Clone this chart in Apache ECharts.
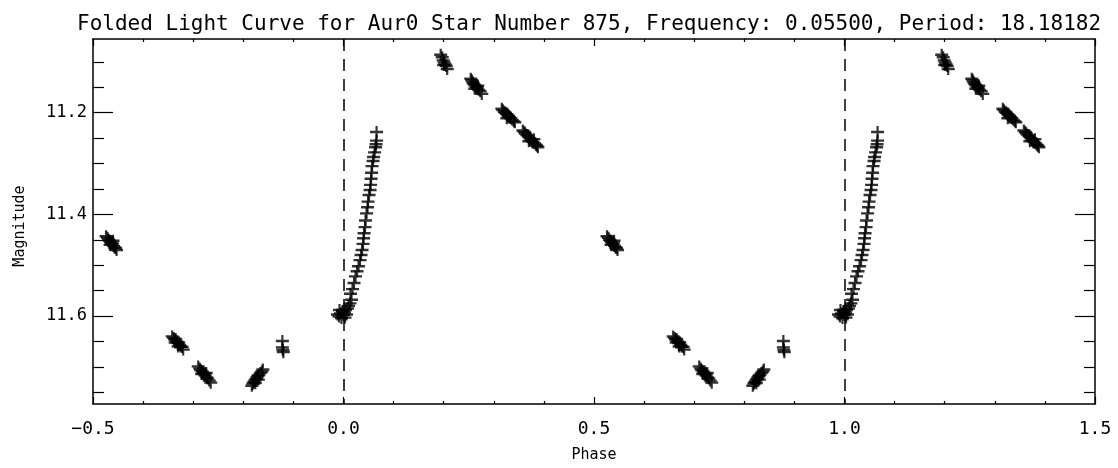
<!DOCTYPE html>
<html>
<head>
<meta charset="utf-8">
<script src="https://cdn.jsdelivr.net/npm/echarts@6/dist/echarts.min.js"></script>
<style>
  html, body { margin: 0; padding: 0; background: #fff; }
  #chart { width: 1118px; height: 468px; }
</style>
</head>
<body>
<div id="chart"></div>
<script>
const phase = [
  // cluster near -0.46
  -0.474, -0.471, -0.469, -0.467, -0.465, -0.463, -0.461, -0.459, -0.457, -0.455, -0.453, -0.460, -0.466,
  // cluster near -0.33
  -0.342, -0.339, -0.337, -0.335, -0.333, -0.331, -0.329, -0.327, -0.325, -0.322, -0.320, -0.336, -0.330,
  // cluster near -0.28
  -0.290, -0.287, -0.285, -0.282, -0.280, -0.278, -0.276, -0.273, -0.271, -0.268, -0.265, -0.283, -0.274,
  // cluster near -0.17
  -0.183, -0.181, -0.179, -0.177, -0.175, -0.173, -0.171, -0.169, -0.166, -0.163, -0.161, -0.176, -0.170,
  // few points near -0.12
  -0.122, -0.122, -0.121, -0.120,
  // minimum near 0.0
  -0.012, -0.009, -0.006, -0.004, -0.002, 0.000, 0.002, 0.004, 0.006, 0.008, 0.010, 0.013, 0.016, -0.008, 0.003,
  // rising branch
  0.066, 0.066, 0.065, 0.064, 0.062, 0.060, 0.059, 0.057, 0.056, 0.055, 0.054, 0.053, 0.051, 0.049, 0.048,
  0.046, 0.044, 0.043, 0.041, 0.040, 0.039, 0.037, 0.035, 0.033, 0.030, 0.027, 0.024, 0.021, 0.018, 0.014,
  // maximum clusters
  0.194, 0.197, 0.199, 0.201, 0.203, 0.205, 0.207, 0.200,
  0.254, 0.256, 0.258, 0.260, 0.262, 0.265, 0.267, 0.270, 0.273, 0.276, 0.262, 0.268,
  0.316, 0.318, 0.321, 0.323, 0.326, 0.329, 0.331, 0.334, 0.337, 0.340, 0.342, 0.326,
  0.358, 0.361, 0.363, 0.366, 0.369, 0.372, 0.375, 0.378, 0.381, 0.384, 0.386, 0.388, 0.370, 0.380
];
const magnitude = [
  11.443, 11.446, 11.450, 11.452, 11.455, 11.458, 11.457, 11.462, 11.465, 11.466, 11.470, 11.452, 11.460,
  11.640, 11.643, 11.646, 11.645, 11.650, 11.653, 11.652, 11.657, 11.660, 11.661, 11.666, 11.652, 11.660,
  11.699, 11.703, 11.706, 11.709, 11.712, 11.714, 11.717, 11.721, 11.723, 11.727, 11.731, 11.714, 11.712,
  11.737, 11.733, 11.730, 11.727, 11.724, 11.721, 11.718, 11.716, 11.712, 11.709, 11.705, 11.732, 11.725,
  11.649, 11.662, 11.667, 11.671,
  11.597, 11.601, 11.595, 11.604, 11.590, 11.598, 11.593, 11.588, 11.597, 11.585, 11.580, 11.575, 11.568, 11.588, 11.603,
  11.238, 11.255, 11.262, 11.268, 11.278, 11.287, 11.295, 11.305, 11.318, 11.330, 11.342, 11.352, 11.362, 11.375, 11.386,
  11.398, 11.412, 11.425, 11.437, 11.447, 11.458, 11.470, 11.480, 11.490, 11.502, 11.512, 11.522, 11.535, 11.547, 11.556,
  11.086, 11.091, 11.097, 11.101, 11.105, 11.108, 11.114, 11.106,
  11.133, 11.136, 11.140, 11.143, 11.146, 11.149, 11.152, 11.155, 11.158, 11.163, 11.153, 11.147,
  11.192, 11.195, 11.198, 11.200, 11.203, 11.206, 11.209, 11.211, 11.214, 11.217, 11.219, 11.211,
  11.235, 11.238, 11.241, 11.244, 11.247, 11.250, 11.254, 11.257, 11.260, 11.263, 11.265, 11.268, 11.256, 11.252
];

const xMajorTicks = [-0.5, 0.0, 0.5, 1.0, 1.5];
const xMinorTicks = [-0.4, -0.3, -0.2, -0.1, 0.1, 0.2, 0.3, 0.4, 0.6, 0.7, 0.8, 0.9, 1.1, 1.2, 1.3, 1.4];
const yMajorTicks = [11.2, 11.4, 11.6];
const yMinorTicks = [11.1, 11.15, 11.25, 11.3, 11.35, 11.45, 11.5, 11.55, 11.65, 11.7, 11.75];
const foldLines = [0, 1];

// each observation drawn at its phase and one period later
const points = [];
phase.forEach((p, i) => {
  points.push([p, magnitude[i]]);
  points.push([p + 1, magnitude[i]]);
});

const chart = echarts.init(document.getElementById('chart'));
const mono = 'DejaVu Sans Mono';
const black = '#000';

const xBase = { type: 'value', min: -0.5, max: 1.5, splitLine: { show: false } };
const yBase = { type: 'value', min: 11.055, max: 11.773, inverse: true, splitLine: { show: false } };

function xAxisOf(position, ticks, len, withLine, withLabel) {
  return Object.assign({}, xBase, {
    position: position,
    axisLine: { show: withLine, onZero: false, lineStyle: { color: black, width: 1.5 } },
    axisTick: { show: true, inside: true, length: len, customValues: ticks, lineStyle: { color: black, width: 1.2 } },
    axisLabel: withLabel ? {
      customValues: ticks, margin: 16, color: black, fontFamily: mono, fontSize: 18,
      formatter: v => (v < 0 ? '\u2212' : '') + Math.abs(v).toFixed(1)
    } : { show: false }
  });
}

function yAxisOf(position, ticks, len, withLine, withLabel) {
  return Object.assign({}, yBase, {
    position: position,
    axisLine: { show: withLine, onZero: false, lineStyle: { color: black, width: 1.5 } },
    axisTick: { show: true, inside: true, length: len, customValues: ticks, lineStyle: { color: black, width: 1.2 } },
    axisLabel: withLabel ? {
      customValues: ticks, margin: 6, color: black, fontFamily: mono, fontSize: 17,
      formatter: v => v.toFixed(1)
    } : { show: false }
  });
}

chart.setOption({
  animation: false,
  backgroundColor: '#fff',
  title: {
    text: 'Folded Light Curve for Aur0 Star Number 875, Frequency: 0.05500, Period: 18.18182',
    left: 72, top: 9,
    textStyle: { fontFamily: mono, fontSize: 21, fontWeight: 'normal', color: black }
  },
  grid: { left: 93, right: 23, top: 39, bottom: 64 },
  xAxis: [
    xAxisOf('bottom', xMajorTicks, 7, true, true),
    xAxisOf('bottom', xMinorTicks, 3, false, false),
    xAxisOf('top', xMajorTicks, 7, true, false),
    xAxisOf('top', xMinorTicks, 3, false, false)
  ],
  yAxis: [
    yAxisOf('left', yMajorTicks, 20, true, true),
    yAxisOf('left', yMinorTicks, 11, false, false),
    yAxisOf('right', yMajorTicks, 20, true, false),
    yAxisOf('right', yMinorTicks, 11, false, false)
  ],
  graphic: [
    {
      type: 'text', x: 20, y: 226, rotation: Math.PI / 2,
      style: { text: 'Magnitude', font: '15px "DejaVu Sans Mono"', fill: black, textAlign: 'center', textVerticalAlign: 'middle' }
    },
    {
      type: 'text', x: 594, y: 455,
      style: { text: 'Phase', font: '15px "DejaVu Sans Mono"', fill: black, textAlign: 'center', textVerticalAlign: 'middle' }
    }
  ],
  series: [{
    type: 'scatter',
    xAxisIndex: 0,
    yAxisIndex: 0,
    data: points,
    symbol: 'path://M0,4H12V6H0Z M5,0H7V10H5Z',
    symbolSize: [13, 12],
    itemStyle: { color: black },
    clip: true,
    markLine: {
      silent: true,
      symbol: 'none',
      label: { show: false },
      lineStyle: { color: black, width: 1.5, type: [12, 8] },
      data: foldLines.map(v => ({ xAxis: v }))
    }
  }]
});
</script>
</body>
</html>
